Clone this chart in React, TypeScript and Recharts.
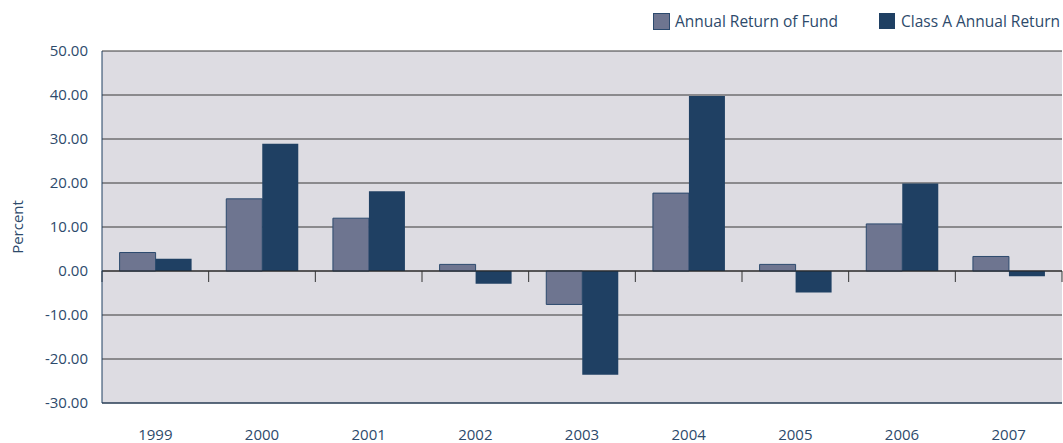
import React from 'react';
import { BarChart, Bar, XAxis, YAxis, CartesianGrid, ReferenceLine } from 'recharts';

const years = ['1999', '2000', '2001', '2002', '2003', '2004', '2005', '2006', '2007'];
const fundReturns = [4.2, 16.4, 12.0, 1.5, -7.6, 17.7, 1.5, 10.7, 3.3];
const classAReturns = [2.8, 28.9, 18.1, -2.9, -23.6, 39.8, -4.9, 19.9, -1.2];
const yTicks = [-30, -20, -10, 0, 10, 20, 30, 40, 50];

const data = years.map((year, i) => ({
    year,
    fund: fundReturns[i],
    classA: classAReturns[i],
}));

const FONT = '"Open Sans", sans-serif';
const TEXT = '#2d4a6b';
const FUND = '#6e7590';
const CLASS_A = '#1f4063';

const LegendBox: React.FC = () => (
    <div style={{ position: 'absolute', top: 10, right: 3, display: 'flex', fontFamily: FONT, fontSize: 15.5, color: TEXT }}>
        <div style={{ display: 'flex', alignItems: 'center', marginRight: 41 }}>
            <span style={{ width: 15, height: 15, background: FUND, border: '1px solid #2c4a6e', marginRight: 5 }} />
            Annual Return of Fund
        </div>
        <div style={{ display: 'flex', alignItems: 'center' }}>
            <span style={{ width: 16, height: 16, background: CLASS_A, marginRight: 6 }} />
            Class A Annual Return
        </div>
    </div>
);

export default function App() {
    return (
        <div style={{ position: 'absolute', left: 0, top: 0, width: 1063, height: 443 }}>
            <LegendBox />
            <BarChart
                width={1063}
                height={443}
                data={data}
                margin={{ top: 51, right: 1, left: 0, bottom: 0 }}
                barCategoryGap="16.5%"
                barGap={0}
            >
                <CartesianGrid vertical={false} fill="#dddce2" stroke="#383838" strokeOpacity={1} />
                <XAxis
                    dataKey="year"
                    height={40}
                    tickLine={false}
                    tickSize={0}
                    tickMargin={26}
                    axisLine={{ stroke: '#1f3f61' }}
                    tick={{ fill: TEXT, fontSize: 15, fontFamily: FONT }}
                />
                <XAxis xAxisId="top" dataKey="year" orientation="top" height={0} tick={false} tickLine={false} axisLine={{ stroke: '#1f3f61' }} />
                <YAxis
                    domain={[-30, 50]}
                    ticks={yTicks}
                    width={102}
                    tickLine={false}
                    tickSize={0}
                    tickMargin={14}
                    axisLine={{ stroke: '#1f3f61' }}
                    tickFormatter={(v) => Number(v).toFixed(2)}
                    tick={{ fill: TEXT, fontSize: 15, fontFamily: FONT }}
                    label={{ value: 'Percent', angle: -90, position: 'insideLeft', offset: 18, style: { fill: TEXT, fontSize: 15, fontFamily: FONT, textAnchor: 'middle' } }}
                />
                <YAxis yAxisId="right" orientation="right" width={0} domain={[-30, 50]} tick={false} tickLine={false} axisLine={{ stroke: '#1f3f61' }} />
                <ReferenceLine y={0} stroke="#222" />
                {years.map((y) => (
                    <ReferenceLine
                        key={y}
                        segment={[{ x: y, y: 0 }, { x: y, y: -2.5 }]}
                        position="start"
                        stroke="#333"
                    />
                ))}
                <ReferenceLine segment={[{ x: '2007', y: 0 }, { x: '2007', y: -2.5 }]} position="end" stroke="#333" />
                <Bar dataKey="fund" fill={FUND} stroke="#2c4a6e" strokeWidth={1} isAnimationActive={false} />
                <Bar dataKey="classA" fill={CLASS_A} isAnimationActive={false} />
            </BarChart>
        </div>
    );
}
